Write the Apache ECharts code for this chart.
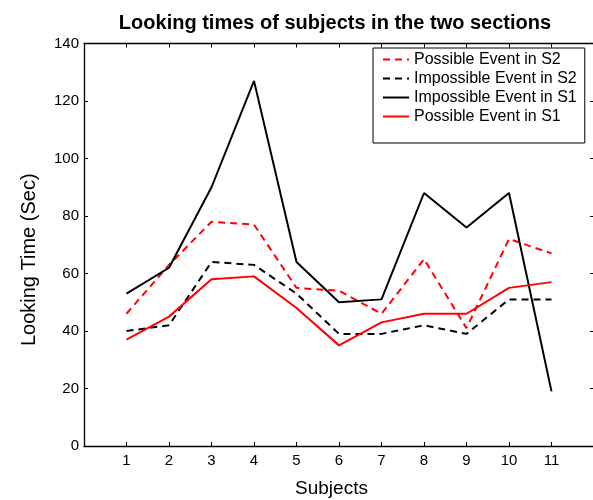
<!DOCTYPE html>
<html>
<head>
<meta charset="utf-8">
<script src="https://cdn.jsdelivr.net/npm/echarts@6/dist/echarts.min.js"></script>
<style>html,body{margin:0;padding:0;background:#fff}#c{width:593px;height:500px}</style>
</head>
<body>
<div id="c"></div>
<script>
var subjects = [1, 2, 3, 4, 5, 6, 7, 8, 9, 10, 11];
var possibleS2 = [46, 63, 78, 77, 55, 54, 46, 65, 41, 72, 67];
var impossibleS2 = [40, 42, 64, 63, 53, 39, 39, 42, 39, 51, 51];
var impossibleS1 = [53, 62, 90, 127, 64, 50, 51, 88, 76, 88, 19];
var possibleS1 = [37, 45, 58, 59, 48, 35, 43, 46, 46, 55, 57];
var yTicks = [0, 20, 40, 60, 80, 100, 120, 140];

function pairs(vals) { return subjects.map(function (s, i) { return [s, vals[i]]; }); }
var FONT = 'Liberation Sans';
var dash = [7, 5];

var chart = echarts.init(document.getElementById('c'));
chart.setOption({
  animation: false,
  backgroundColor: '#fff',
  textStyle: { fontFamily: FONT },
  title: {
    text: 'Looking times of subjects in the two sections',
    left: 330, top: 8, textAlign: 'center',
    textStyle: { fontFamily: FONT, fontSize: 20, fontWeight: 'bold', color: '#000' }
  },
  legend: {
    left: 373, top: 48, orient: 'vertical',
    padding: [2, 8, 17, 9],
    itemWidth: 26, itemHeight: 19, itemGap: 0, itemTextGap: 11,
    borderColor: '#000', borderWidth: 1, backgroundColor: '#fff',
    selectedMode: false,
    itemStyle: { opacity: 0 },
    textStyle: { fontFamily: FONT, fontSize: 16, color: '#000', lineHeight: 19 },
    data: ['Possible Event in S2', 'Impossible Event in S2', 'Impossible Event in S1', 'Possible Event in S1']
  },
  grid: { left: 84, top: 43.5, bottom: 54, width: 510, containLabel: false, outerBoundsMode: 'none' },
  xAxis: [{
    type: 'value', min: 0, max: 12, interval: 1,
    name: 'Subjects', nameLocation: 'middle', nameGap: 33,
    nameTextStyle: { fontFamily: FONT, fontSize: 19, color: '#000', padding: [0, 15, 0, 0] },
    axisLine: { onZero: false, lineStyle: { color: '#000', width: 1.3 } },
    axisTick: { inside: true, length: 4, lineStyle: { color: '#000' } },
    axisLabel: { fontFamily: FONT, fontSize: 15, color: '#000', margin: 7,
      formatter: function (v) { return (v >= 1 && v <= 11) ? String(v) : ''; } },
    splitLine: { show: false }
  }, {
    type: 'value', position: 'top', min: 0, max: 12, interval: 1,
    axisLine: { onZero: false, lineStyle: { color: '#000', width: 1.3 } },
    axisTick: { inside: true, length: 4, lineStyle: { color: '#000' } },
    axisLabel: { show: false }, splitLine: { show: false }
  }],
  yAxis: [{
    type: 'value', min: 0, max: 140, interval: 20,
    name: 'Looking Time (Sec)', nameLocation: 'middle', nameGap: 45,
    nameTextStyle: { fontFamily: FONT, fontSize: 20, color: '#000', padding: [0, 30, 0, 0] },
    axisLine: { show: true, onZero: false, lineStyle: { color: '#000', width: 1.3 } },
    axisTick: { show: true, inside: true, length: 4, lineStyle: { color: '#000' } },
    axisLabel: { fontFamily: FONT, fontSize: 15, color: '#000', margin: 5,
      formatter: function (v) { return yTicks.indexOf(v) >= 0 ? String(v) : ''; } },
    splitLine: { show: false }
  }, {
    type: 'value', position: 'right', min: 0, max: 140, interval: 20,
    axisLine: { show: true, onZero: false, lineStyle: { color: '#000', width: 1.3 } },
    axisTick: { show: true, inside: true, length: 4, lineStyle: { color: '#000' } },
    axisLabel: { show: false }, splitLine: { show: false }
  }],
  series: [
    { name: 'Possible Event in S2', type: 'line', data: pairs(possibleS2), showSymbol: false, symbol: 'none',
      color: '#ff0000', lineStyle: { color: '#ff0000', width: 2, type: dash } },
    { name: 'Impossible Event in S2', type: 'line', data: pairs(impossibleS2), showSymbol: false, symbol: 'none',
      color: '#000', lineStyle: { color: '#000', width: 2, type: dash } },
    { name: 'Impossible Event in S1', type: 'line', data: pairs(impossibleS1), showSymbol: false, symbol: 'none',
      color: '#000', lineStyle: { color: '#000', width: 2 } },
    { name: 'Possible Event in S1', type: 'line', data: pairs(possibleS1), showSymbol: false, symbol: 'none',
      color: '#ff0000', lineStyle: { color: '#ff0000', width: 2 } }
  ]
});
</script>
</body>
</html>
